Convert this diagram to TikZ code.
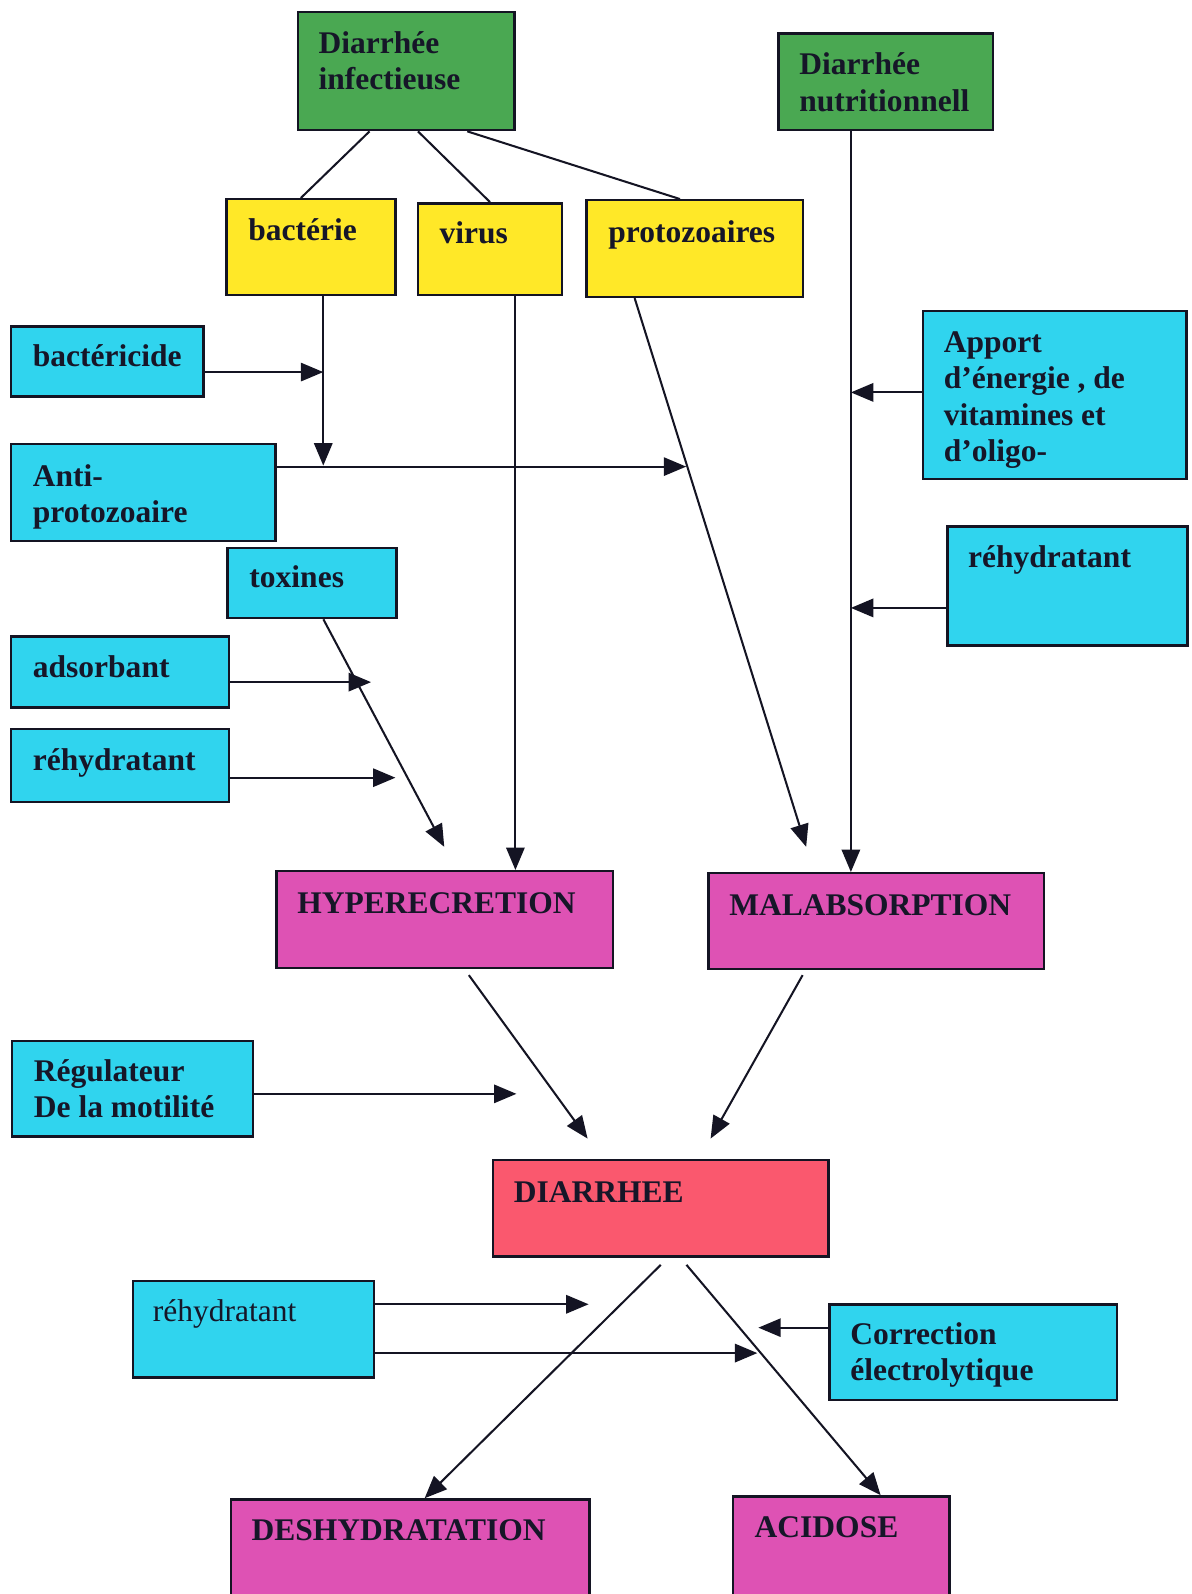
\documentclass[tikz,border=0pt]{standalone}
\usepackage{fontspec}
\setmainfont{Liberation Serif}
\usetikzlibrary{arrows.meta,fit,calc}
\definecolor{cgreen}{RGB}{74,168,82}
\definecolor{cyellow}{RGB}{255,232,40}
\definecolor{ccyan}{RGB}{48,212,238}
\definecolor{cmag}{RGB}{222,82,180}
\definecolor{cred}{RGB}{250,88,110}
\definecolor{ctext}{RGB}{22,22,40}
\definecolor{cline}{RGB}{20,20,35}
\begin{document}
\begin{tikzpicture}[x=0.5pt,y=-0.5pt,
 box/.style={draw=cline, line width=1.2pt, inner sep=0pt},
 lbl/.style={anchor=north west, inner sep=0pt, align=left, text=ctext, font=\fontsize{15.5}{18}\selectfont\bfseries},
 lblr/.style={lbl, font=\fontsize{15.5}{18}\selectfont},
 con/.style={line width=1pt, draw=cline},
 arr/.style={con, -{Triangle[length=11pt,width=9pt]}}]
\useasboundingbox (0,0) rectangle (1172,1568);
\clip (0,0) rectangle (1172,1568);
\fill[white] (0,0) rectangle (1172,1568);

% boxes
\node[box, fill=cgreen, fit={(293,12)(506,128)}] (inf) {};
\node[lbl] (inft) at (313,26.8) {\strut Diarrhée\\\strut infectieuse};
\node[box, fill=cgreen, fit={(766,33)(977,128)}] (nutri) {};
\node[lbl] (nutrit) at (786,47.8) {\strut Diarrhée\\\strut nutritionnell};
\node[box, fill=cyellow, fit={(223,196)(389,290)}] (bact) {};
\node[lbl] (bactt) at (244,210.8) {\strut bactérie};
\node[box, fill=cyellow, fit={(411,200)(553,290)}] (virus) {};
\node[lbl] (virust) at (432,213.8) {\strut virus};
\node[box, fill=cyellow, fit={(577,197)(790,292)}] (proto) {};
\node[lbl] (protot) at (598,212.8) {\strut protozoaires};
\node[box, fill=ccyan, fit={(11,321)(200,390)}] (bcide) {};
\node[lbl] (bcidet) at (32,334.8) {\strut bactéricide};
\node[box, fill=ccyan, fit={(11,437)(271,532)}] (anti) {};
\node[lbl] (antit) at (32,452.8) {\strut Anti-\\\strut protozoaire};
\node[box, fill=ccyan, fit={(224,539)(390,608)}] (tox) {};
\node[lbl] (toxt) at (245,552.8) {\strut toxines};
\node[box, fill=ccyan, fit={(11,626)(225,696)}] (ads) {};
\node[lbl] (adst) at (32,640.8) {\strut adsorbant};
\node[box, fill=ccyan, fit={(11,717)(225,789)}] (rehL) {};
\node[lbl] (rehLt) at (32,732.8) {\strut réhydratant};
\node[box, fill=ccyan, fit={(908,306)(1167,471)}] (apport) {};
\node[lbl] (apportt) at (928,320.8) {\strut Apport\\\strut d’énergie , de\\\strut vitamines et\\\strut d’oligo-};
\node[box, fill=ccyan, fit={(932,518)(1168,635)}] (rehR) {};
\node[lbl] (rehRt) at (952,532.8) {\strut réhydratant};
\node[box, fill=cmag, fit={(272,857)(603,952)}] (hyper) {};
\node[lbl] (hypert) at (292,872.8) {\strut HYPERECRETION};
\node[box, fill=cmag, fit={(697,859)(1027,953)}] (malab) {};
\node[lbl] (malabt) at (717,874.8) {\strut MALABSORPTION};
\node[box, fill=ccyan, fit={(12,1024)(249,1118)}] (regul) {};
\node[lbl] (regult) at (33,1037.8) {\strut Régulateur\\\strut De la motilité};
\node[box, fill=cred, fit={(485,1141)(815,1236)}] (diar) {};
\node[lbl] (diart) at (505,1156.8) {\strut DIARRHEE};
\node[box, fill=ccyan, fit={(131,1260)(368,1355)}] (rehB) {};
\node[lblr] (rehBt) at (150,1274.8) {\strut réhydratant};
\node[box, fill=ccyan, fit={(816,1283)(1099,1377)}] (corr) {};
\node[lbl] (corrt) at (836,1296.8) {\strut Correction\\\strut électrolytique};
\node[box, fill=cmag, fit={(227,1475)(580,1590)}] (desh) {};
\node[lbl] (desht) at (247,1489.8) {\strut DESHYDRATATION};
\node[box, fill=cmag, fit={(721,1472)(934,1590)}] (acid) {};
\node[lbl] (acidt) at (742,1486.8) {\strut ACIDOSE};

% connectors
\draw[con] ($(inf.south west)!0.333!(inf.south east)$) -- ($(bact.north west)!0.44!(bact.north east)$);
\draw[con] ($(inf.south west)!0.554!(inf.south east)$) -- (virus.north);
\draw[con] ($(inf.south west)!0.779!(inf.south east)$) -- ($(proto.north west)!0.432!(proto.north east)$);

\coordinate (cbt) at (318,366);
\coordinate (cb) at (318,458);
\draw[arr] (bact.south -| cb) -- (cb);
\draw[arr] (bcide.east |- cbt) -- (cbt);
\coordinate (cap) at (675,459);
\draw[arr] (anti.east |- cap) -- (cap);

\coordinate (vx) at (507,0);
\draw[arr] (virus.south -| vx) -- (hyper.north -| vx);
\coordinate (pm) at (793,833);
\draw[arr] ($(proto.south west)!0.225!(proto.south east)$) -- (pm);
\coordinate (tx) at (437,833);
\draw[arr] ($(tox.south west)!0.566!(tox.south east)$) -- (tx);
\coordinate (ca) at (365,671);
\draw[arr] (ads.east |- ca) -- (ca);
\coordinate (cr) at (389,765);
\draw[arr] (rehL.east |- cr) -- (cr);

\coordinate (nx) at (837,0);
\draw[arr] (nutri.south -| nx) -- (malab.north -| nx);
\coordinate (cn1) at (837,386);
\draw[arr] (apport.west |- cn1) -- (cn1);
\coordinate (cn2) at (837,598);
\draw[arr] (rehR.west |- cn2) -- (cn2);

\coordinate (d1) at (578,1120);
\draw[arr] ($(hyper.south west)!0.571!(hyper.south east)+(0,6)$) -- (d1);
\coordinate (d2) at (699,1120);
\draw[arr] ($(malab.south west)!0.282!(malab.south east)+(0,5)$) -- (d2);
\coordinate (d3) at (508,1076);
\draw[arr] (regul.east |- d3) -- (d3);

\draw[arr] ($(diar.south west)!0.5!(diar.south east)+(0,7)$) -- ($(desh.north west)!0.54!(desh.north east)$);
\draw[arr] ($(diar.south west)!0.576!(diar.south east)+(0,7)$) -- ($(acid.north west)!0.68!(acid.north east)$);
\coordinate (e1) at (579,1283);
\draw[arr] (rehB.east |- e1) -- (e1);
\coordinate (e2) at (745,1331);
\draw[arr] (rehB.east |- e2) -- (e2);
\coordinate (e3) at (746,1306);
\draw[arr] (corr.west |- e3) -- (e3);
\end{tikzpicture}
\end{document}
